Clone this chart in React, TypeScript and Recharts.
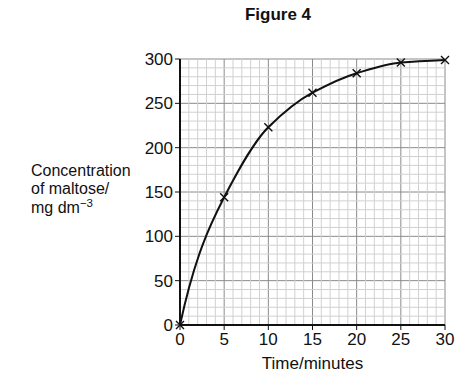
import { LineChart, Line, XAxis, YAxis, CartesianGrid, ReferenceLine } from "recharts";

const times = [0, 5, 10, 15, 20, 25, 30];
const maltose = [0, 144, 223, 262, 284, 296, 299];
const xTicks = [0, 5, 10, 15, 20, 25, 30];
const yTicks = [0, 50, 100, 150, 200, 250, 300];
const xMinor = Array.from({ length: 31 }, (_, i) => i).filter((v) => v % 5 !== 0);
const yMinor = Array.from({ length: 31 }, (_, i) => i * 10).filter((v) => v % 50 !== 0);

const data = times.map((t, i) => ({ time: t, maltose: maltose[i] }));

const FONT = "'Liberation Sans', Arial, sans-serif";

// hand-drawn look: hermite spline, tangents lean on the next segment,
// and the curve leaves the origin steeper
function drawnCurve(context: any) {
  let xs: number[] = [];
  let ys: number[] = [];
  return {
    areaStart() {},
    areaEnd() {},
    lineStart() {
      xs = [];
      ys = [];
    },
    point(x: number, y: number) {
      xs.push(+x);
      ys.push(+y);
    },
    lineEnd() {
      const n = xs.length;
      if (!n) return;
      context.moveTo(xs[0], ys[0]);
      if (n === 1) return;
      const sec: number[] = [];
      for (let i = 0; i < n - 1; i++) sec.push((ys[i + 1] - ys[i]) / (xs[i + 1] - xs[i]));
      const m: number[] = new Array(n).fill(0);
      for (let i = 1; i < n - 1; i++) {
        const s0 = sec[i - 1];
        const s1 = sec[i];
        if (s0 * s1 <= 0) continue;
        m[i] = Math.sign(s0) * Math.pow(Math.abs(s0), 1 / 3) * Math.pow(Math.abs(s1), 2 / 3);
      }
      m[0] = sec[0] * 1.6;
      m[n - 1] = n > 2 ? (3 * sec[n - 2] - m[n - 2]) / 2 : sec[0];
      for (let i = 0; i < n - 1; i++) {
        const h = xs[i + 1] - xs[i];
        context.bezierCurveTo(
          xs[i] + h / 3,
          ys[i] + (m[i] * h) / 3,
          xs[i + 1] - h / 3,
          ys[i + 1] - (m[i + 1] * h) / 3,
          xs[i + 1],
          ys[i + 1]
        );
      }
    },
  };
}

function Cross(props: any) {
  const { cx, cy } = props;
  if (cx == null || cy == null) return null;
  const s = 4;
  return (
    <path
      d={`M${cx - s},${cy - s}L${cx + s},${cy + s}M${cx + s},${cy - s}L${cx - s},${cy + s}`}
      stroke="#111"
      strokeWidth={1.4}
      fill="none"
    />
  );
}

function YLabel() {
  const common = { fontSize: 16, fontFamily: FONT, fill: "#111" };
  return (
    <g>
      <text x={31} y={175.5} {...common}>Concentration</text>
      <text x={31} y={194} {...common}>of maltose/</text>
      <text x={31} y={212.5} {...common}>
        mg dm<tspan fontSize={11.5} dy={-6}>−3</tspan>
      </text>
    </g>
  );
}

export default function App() {
  return (
    <div style={{ position: "absolute", left: 0, top: 0, width: 473, height: 382, background: "#fff", fontFamily: FONT }}>
      <div style={{ position: "absolute", left: 0, width: 556, top: 5, textAlign: "center", fontSize: 17, fontWeight: "bold", color: "#111" }}>
        Figure 4
      </div>
      <LineChart width={473} height={382} data={data} margin={{ top: 59, right: 28, bottom: 12, left: 140 }}>
        {xMinor.map((v) => (
          <ReferenceLine key={"x" + v} x={v} stroke="#d0d0d0" strokeWidth={1} />
        ))}
        {yMinor.map((v) => (
          <ReferenceLine key={"y" + v} y={v} stroke="#d0d0d0" strokeWidth={1} />
        ))}
        <CartesianGrid stroke="#8a8a8a" strokeWidth={1} />
        <XAxis
          dataKey="time"
          type="number"
          domain={[0, 30]}
          ticks={xTicks}
          height={45}
          tickSize={5}
          tickMargin={3}
          axisLine={{ stroke: "#111", strokeWidth: 2 }}
          tickLine={{ stroke: "#111" }}
          tick={{ fontSize: 17, fill: "#111", fontFamily: FONT }}
          label={{ value: "Time/minutes", position: "insideBottom", offset: 1, fontSize: 17, fill: "#111", fontFamily: FONT }}
        />
        <YAxis
          type="number"
          domain={[0, 300]}
          ticks={yTicks}
          width={40}
          tickSize={5}
          tickMargin={2}
          axisLine={{ stroke: "#111", strokeWidth: 2 }}
          tickLine={{ stroke: "#111" }}
          tick={{ fontSize: 17, fill: "#111", fontFamily: FONT }}
          label={{ content: () => <YLabel /> }}
        />
        <Line
          type={drawnCurve as any}
          dataKey="maltose"
          stroke="#111"
          strokeWidth={2}
          dot={<Cross />}
          activeDot={false}
          isAnimationActive={false}
        />
      </LineChart>
    </div>
  );
}
